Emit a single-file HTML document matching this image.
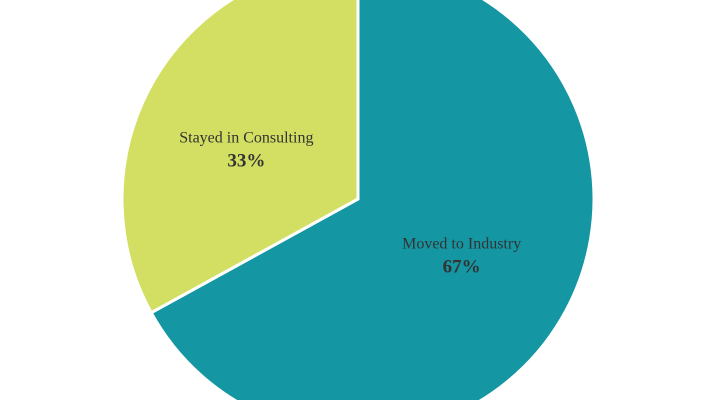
<!DOCTYPE html>
<html><head><meta charset="utf-8"><style>
html,body{margin:0;padding:0;background:#fff;overflow:hidden;width:720px;height:400px;}
#wrap{width:720px;height:400px;overflow:hidden;position:relative;}
svg{display:block;overflow:hidden;}
text{font-family:"Liberation Serif",serif;fill:#333;}
</style></head><body>
<div id="wrap">
<svg id="chart" width="720" height="400" viewBox="0 0 720 400">
<defs><clipPath id="clip"><rect x="0" y="0" width="720" height="400"/></clipPath></defs>
<g id="pie" clip-path="url(#clip)"></g>
</svg>
</div>
<script>
const categories = ["Moved to Industry", "Stayed in Consulting"];
const values = [67, 33];
const labels = ["67%", "33%"];
const colors = ["#1496a3", "#d2df62"];
const cx = 358, cy = 199, r = 236;
const g = document.getElementById('pie');
const NS = 'http://www.w3.org/2000/svg';
const total = values.reduce((a,b)=>a+b,0);
let a0 = 0;
values.forEach((v,i)=>{
  const a1 = a0 + v/total*2*Math.PI;
  const x0 = cx + r*Math.sin(a0), y0 = cy - r*Math.cos(a0);
  const x1 = cx + r*Math.sin(a1), y1 = cy - r*Math.cos(a1);
  const large = (a1-a0) > Math.PI ? 1 : 0;
  const p = document.createElementNS(NS,'path');
  p.setAttribute('d',`M${cx},${cy}L${x0},${y0}A${r},${r} 0 ${large} 1 ${x1},${y1}Z`);
  p.setAttribute('fill',colors[i]);
  p.setAttribute('stroke','#fff');
  p.setAttribute('stroke-width','3');
  
  
  g.appendChild(p);
  const mid = (a0+a1)/2;
  const lr = r*0.53;
  const lx = cx + lr*Math.sin(mid) - 4, ly = cy + 2.5 - lr*Math.cos(mid)*0.83;
  const t1 = document.createElementNS(NS,'text');
  t1.setAttribute('x',lx); t1.setAttribute('y',ly-6);
  t1.setAttribute('text-anchor','middle'); t1.setAttribute('font-size','16');
  t1.textContent = categories[i];
  
  
  g.appendChild(t1);
  const t2 = document.createElementNS(NS,'text');
  t2.setAttribute('x',lx); t2.setAttribute('y',ly+18);
  t2.setAttribute('text-anchor','middle'); t2.setAttribute('font-size','19');
  t2.setAttribute('font-weight','bold');
  t2.textContent = labels[i];
  
  
  g.appendChild(t2);
  a0 = a1;
});
</script>
</body></html>
